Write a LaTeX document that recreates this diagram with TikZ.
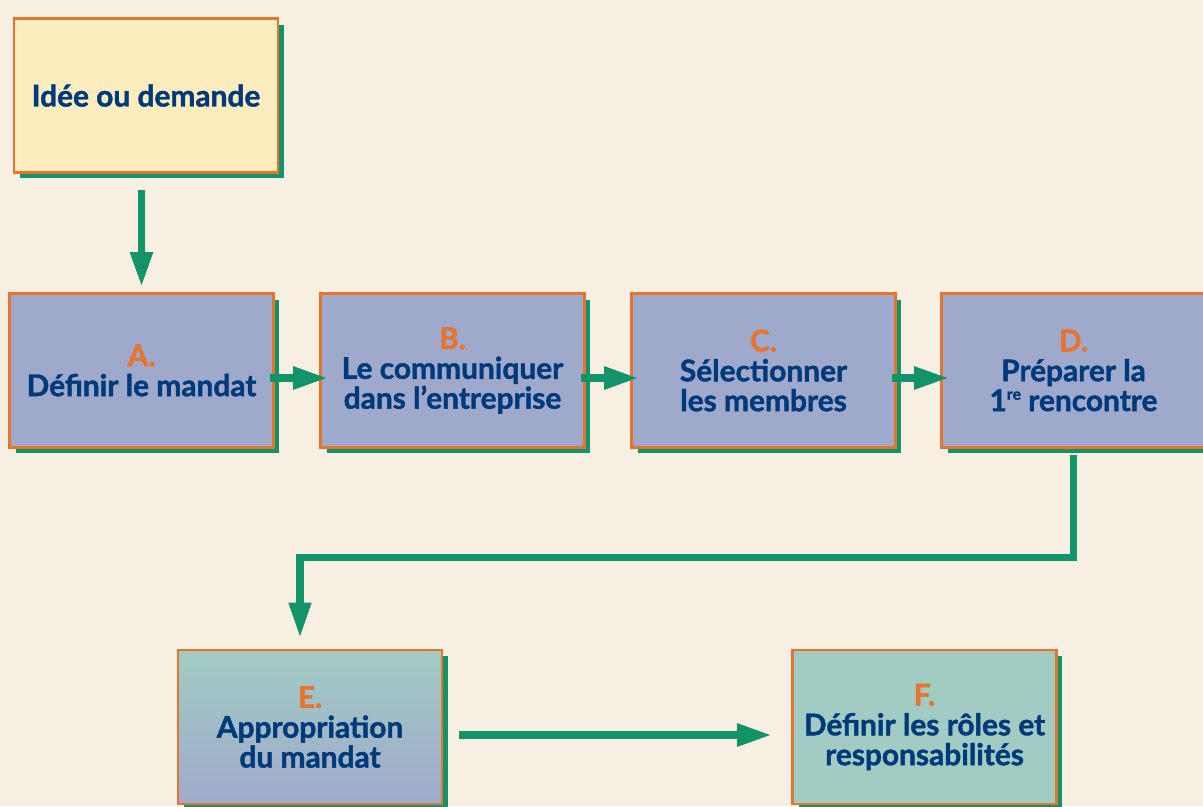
\documentclass[tikz,border=0pt]{standalone}
\usepackage{fontspec}
\setmainfont{Lato}[BoldFeatures={FakeBold=1.4}]
\usepackage{tikz}
\usetikzlibrary{arrows.meta, shadows}
\definecolor{pPaper}{HTML}{F7EFE2}
\definecolor{pCream}{HTML}{FDEDBE}
\definecolor{pSky}{HTML}{9FA9CC}
\definecolor{pTeal}{HTML}{A2CCC3}
\definecolor{pOrange}{HTML}{E8732A}
\definecolor{pGreen}{HTML}{12936A}
\definecolor{pNavy}{HTML}{003A7A}

\begin{document}
\begin{tikzpicture}[
  x=0.02cm, y=-0.02cm,
  every node/.style={font=\fontsize{17}{17}\selectfont\bfseries, text=pNavy},
  box/.style={rectangle, draw=pOrange, line width=1.5pt, inner sep=0pt,
              minimum width=5.28cm, minimum height=3.08cm, align=center,
              drop shadow={shadow xshift=0.12cm, shadow yshift=-0.12cm,
                           fill=pGreen, opacity=1}},
  task/.style={box, fill=pSky},
  flow/.style={draw=pGreen, line width=4.5pt,
               -{Triangle[length=0.7cm, width=0.42cm]}}
]
\useasboundingbox (0,0) rectangle (1203,806);
\clip (0,0) rectangle (1203,806);
\fill[pPaper] (0,0) rectangle (1203,806);

\node[box, fill=pCream] (idea) at (146,95.5) {Idée ou demande};

\node[task] (A) at (141.5,370.5)  {\textcolor{pOrange}{A.}\\Définir le mandat};
\node[task] (B) at (452.5,370.5)  {\textcolor{pOrange}{B.}\\Le communiquer\\dans l’entreprise};
\node[task] (C) at (763.5,370.5)  {\textcolor{pOrange}{C.}\\Sélectionner\\les membres};
\node[task] (D) at (1073.5,370.5) {\textcolor{pOrange}{D.}\\Préparer la\\1\raisebox{0.38em}{\fontsize{9}{9}\selectfont re} rencontre};

\node[box, top color=pTeal, bottom color=pSky] (E) at (310,727)
  {\textcolor{pOrange}{E.}\\Appropriation\\du mandat};
\node[box, fill=pTeal] (F) at (924.5,727)
  {\textcolor{pOrange}{F.}\\Définir les rôles et\\responsabilités};

\draw[flow] ([yshift=-0.32cm]A.north |- idea.south) -- ([yshift=0.1cm]A.north);
\draw[flow] ([shift={(-0.1cm,-0.15cm)}]A.east) -- ([shift={(0.18cm,-0.15cm)}]B.west);
\draw[flow] ([shift={(-0.1cm,-0.15cm)}]B.east) -- ([shift={(0.18cm,-0.15cm)}]C.west);
\draw[flow] ([shift={(-0.1cm,-0.15cm)}]C.east) -- ([shift={(0.18cm,-0.15cm)}]D.west);
\draw[flow, line width=4pt] ([yshift=-0.12cm]D.south) -- ++(0cm,-2.06cm)
  -| ([shift={(-0.2cm,0.22cm)}]E.north);
\draw[flow] ([shift={(0.32cm,-0.16cm)}]E.east) -- ([shift={(-0.38cm,-0.16cm)}]F.west);
\end{tikzpicture}
\end{document}
